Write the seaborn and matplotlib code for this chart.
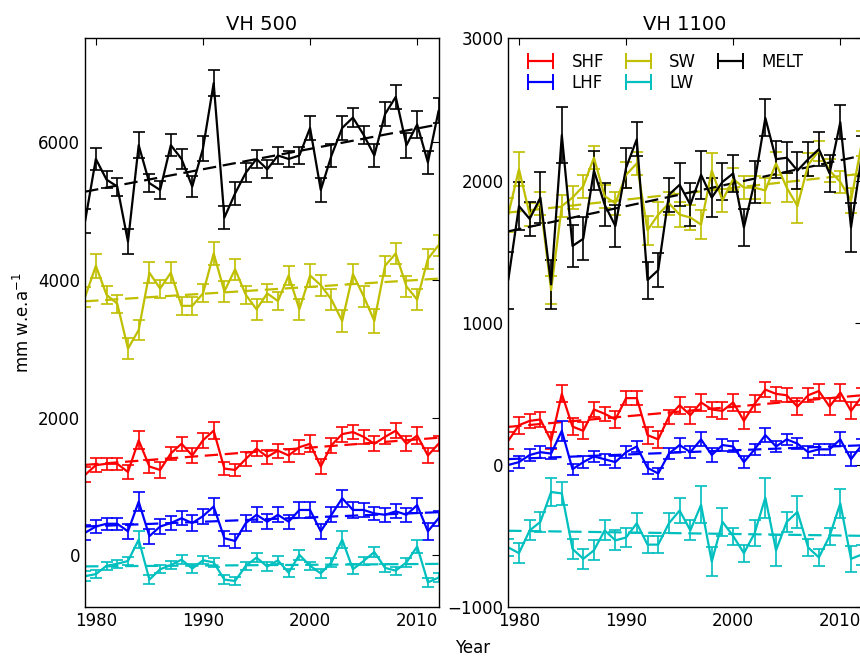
import numpy as np
import matplotlib
matplotlib.use("Agg")
import matplotlib.pyplot as plt
from matplotlib.lines import Line2D
import seaborn as sns

# years of the record
years = np.arange(1979, 2013)

# VH 500 (mm w.e. per year)
melt_500 = [4850, 5750, 5450, 5350, 4550, 5950, 5400, 5300, 5950, 5750,
            5350, 5900, 6850, 4900, 5250, 5550, 5750, 5600, 5800, 5750,
            5800, 6200, 5300, 5800, 6200, 6350, 6100, 5800, 6400, 6650,
            5950, 6250, 5700, 6450]
sw_500 = [3750, 4200, 3780, 3650, 3000, 3270, 4100, 3870, 4100, 3620,
          3620, 3800, 4380, 3830, 4150, 3780, 3570, 3800, 3690, 4060,
          3570, 4060, 3920, 3710, 3400, 4080, 3760, 3400, 4200, 4380,
          3900, 3710, 4300, 4500]
shf_500 = [1170, 1310, 1330, 1330, 1210, 1670, 1290, 1240, 1480, 1620,
           1450, 1670, 1810, 1260, 1240, 1400, 1550, 1430, 1520, 1450,
           1570, 1620, 1290, 1600, 1760, 1790, 1720, 1620, 1720, 1810,
           1620, 1740, 1450, 1620]
lhf_500 = [330, 420, 460, 460, 350, 780, 280, 420, 470, 540,
           470, 570, 710, 250, 210, 470, 590, 490, 590, 490,
           660, 660, 350, 590, 830, 660, 660, 610, 590, 640,
           590, 730, 350, 540]
lw_500 = [-300, -270, -150, -120, -80, 230, -350, -200, -140, -60,
          -190, -70, -100, -350, -370, -150, -30, -160, -70, -250,
          10, -150, -260, -100, 230, -200, -80, 50, -180, -220,
          -100, 130, -390, -320]

# VH 1100
melt_1100 = [1300, 1820, 1730, 1880, 1270, 2320, 1540, 1590, 2070, 1830,
             1680, 2090, 2290, 1300, 1370, 1900, 1970, 1830, 2040, 1880,
             1990, 2050, 1670, 1990, 2440, 2150, 2160, 2070, 2150, 2220,
             2050, 2410, 1670, 2170]
sw_1100 = [1760, 2080, 1760, 1840, 1230, 1820, 1880, 1960, 2160, 1890,
           1840, 2040, 2120, 1650, 1760, 1840, 1760, 1740, 1690, 2070,
           1860, 2010, 1950, 1950, 1930, 2120, 1950, 1820, 2110, 2210,
           2070, 1990, 1860, 2260]
shf_1100 = [170, 280, 310, 320, 170, 500, 270, 240, 390, 360,
            320, 470, 470, 210, 180, 340, 420, 350, 440, 390,
            380, 440, 310, 430, 530, 500, 490, 410, 490, 520,
            410, 510, 380, 480]
lhf_1100 = [0, 20, 70, 90, 80, 240, -30, 20, 60, 40,
            20, 90, 130, -20, -60, 80, 140, 90, 180, 70,
            140, 130, 20, 110, 210, 130, 180, 150, 90, 110,
            110, 180, 40, 140]
lw_1100 = [-580, -620, -460, -400, -190, -200, -590, -660, -600, -460,
           -530, -510, -410, -560, -560, -410, -320, -460, -280, -680,
           -400, -500, -620, -480, -230, -600, -400, -330, -580, -650,
           -500, -270, -660, -630]

# error bars
melt_500_err = [180, 160, 120, 130, 180, 190, 130, 130, 160, 150,
                150, 180, 190, 170, 170, 140, 130, 130, 120, 110,
                130, 180, 170, 170, 170, 140, 130, 160, 170, 170,
                180, 190, 170, 180]
sw_500_err = [150, 170, 130, 130, 150, 150, 150, 130, 150, 130,
              130, 130, 170, 150, 150, 130, 150, 130, 130, 140,
              150, 170, 150, 150, 160, 150, 150, 170, 140, 150,
              150, 150, 150, 150]
shf_500_err = [110, 100, 90, 90, 100, 130, 100, 110, 100, 100,
               110, 110, 120, 100, 90, 100, 110, 100, 100, 100,
               100, 120, 110, 110, 110, 100, 100, 110, 100, 110,
               110, 120, 110, 110]
lhf_500_err = [110, 100, 90, 90, 110, 140, 110, 110, 100, 100,
               110, 110, 120, 110, 100, 110, 110, 110, 110, 100,
               110, 110, 110, 110, 120, 110, 100, 100, 100, 100,
               100, 110, 120, 110]
lw_500_err = [70, 60, 60, 60, 60, 120, 60, 60, 60, 60,
              60, 60, 60, 60, 60, 60, 70, 60, 60, 60,
              70, 60, 60, 60, 120, 70, 60, 70, 60, 60,
              60, 90, 70, 60]

melt_1100_err = [200, 170, 120, 180, 170, 200, 150, 150, 140, 150,
                 150, 140, 120, 130, 120, 120, 150, 150, 170, 140,
                 130, 130, 130, 150, 130, 130, 110, 130, 120, 120,
                 130, 120, 170, 140]
sw_1100_err = [120, 120, 80, 80, 100, 80, 80, 80, 80, 80,
               80, 90, 80, 100, 90, 80, 90, 90, 100, 120,
               80, 80, 80, 80, 90, 80, 100, 120, 80, 70,
               80, 80, 90, 90]
shf_1100_err = [60, 60, 50, 50, 60, 60, 60, 60, 50, 50,
                60, 50, 50, 60, 60, 50, 60, 60, 60, 50,
                60, 60, 60, 60, 50, 50, 50, 60, 50, 50,
                60, 60, 60, 60]
lhf_1100_err = [40, 40, 40, 40, 40, 70, 40, 40, 40, 40,
                40, 40, 40, 40, 40, 40, 50, 40, 50, 50,
                40, 40, 40, 40, 50, 40, 40, 40, 40, 40,
                40, 50, 50, 40]
lw_1100_err = [60, 70, 70, 70, 100, 80, 70, 70, 70, 70,
               70, 70, 70, 60, 60, 70, 90, 70, 130, 100,
               100, 60, 60, 90, 140, 110, 70, 110, 60, 60,
               60, 100, 90, 70]

names = ["SHF", "LHF", "SW", "LW", "MELT"]
colors = ["#ff0000", "#0000ff", "#bfbf00", "#00bfbf", "#000000"]

panels = [
    ("VH 500", [shf_500, lhf_500, sw_500, lw_500, melt_500],
     [shf_500_err, lhf_500_err, sw_500_err, lw_500_err, melt_500_err],
     (-750, 7500), [0, 2000, 4000, 6000]),
    ("VH 1100", [shf_1100, lhf_1100, sw_1100, lw_1100, melt_1100],
     [shf_1100_err, lhf_1100_err, sw_1100_err, lw_1100_err, melt_1100_err],
     (-1000, 3000), [-1000, 0, 1000, 2000, 3000]),
]

sns.set_style("white")
plt.rcParams["font.family"] = ["DejaVu Sans"]
plt.rcParams["text.color"] = "black"
plt.rcParams["axes.labelcolor"] = "black"
plt.rcParams["xtick.color"] = "black"
plt.rcParams["ytick.color"] = "black"
plt.rcParams["xtick.direction"] = "in"
plt.rcParams["ytick.direction"] = "in"

fig = plt.figure(figsize=(8.6, 6.6), dpi=100)
ax1 = fig.add_axes([0.099, 0.080, 0.411, 0.862])
ax2 = fig.add_axes([0.591, 0.080, 0.411, 0.862])

for ax, (title, series, errs, ylim, yticks) in zip([ax1, ax2], panels):
    for name, vals, err, col in zip(names, series, errs, colors):
        ax.errorbar(years, vals, yerr=err, color=col, lw=1.6,
                    capsize=4, capthick=1.2, elinewidth=1.2, label=name)
        # linear trend through the yearly values
        sns.regplot(x=years, y=np.array(vals), ax=ax, scatter=False, ci=None,
                    color=col, truncate=True,
                    line_kws=dict(ls="--", lw=1.6, dashes=(6, 3)))
    ax.set_xlim(1979, 2012)
    ax.set_ylim(*ylim)
    ax.set_xticks([1980, 1990, 2000, 2010])
    ax.set_yticks(yticks)
    ax.set_title(title, fontsize=14, color="black")
    ax.tick_params(axis="both", which="both", direction="in", top=True,
                   right=True, length=5, width=0.8, labelsize=12,
                   colors="black")
    for sp in ax.spines.values():
        sp.set_visible(True)
        sp.set_color("black")
        sp.set_linewidth(1.0)

ax1.set_ylabel("mm w.e.a$^{-1}$", fontsize=12)
fig.text(0.55, 0.004, "Year", ha="center", va="bottom", fontsize=12)

# legend keys drawn like old-style errorbar keys: line with caps at both ends
handles = [Line2D([0], [0], color=c, lw=1.6, marker="|", markersize=11,
                  markeredgewidth=1.4) for c in colors]
ax2.legend(handles, names, loc="upper left", ncol=3, frameon=False,
           fontsize=12, numpoints=2, handlelength=2.1, columnspacing=1.0,
           labelspacing=0.15, borderaxespad=0.5, handletextpad=0.8)

fig.savefig("out.png", dpi=100)
